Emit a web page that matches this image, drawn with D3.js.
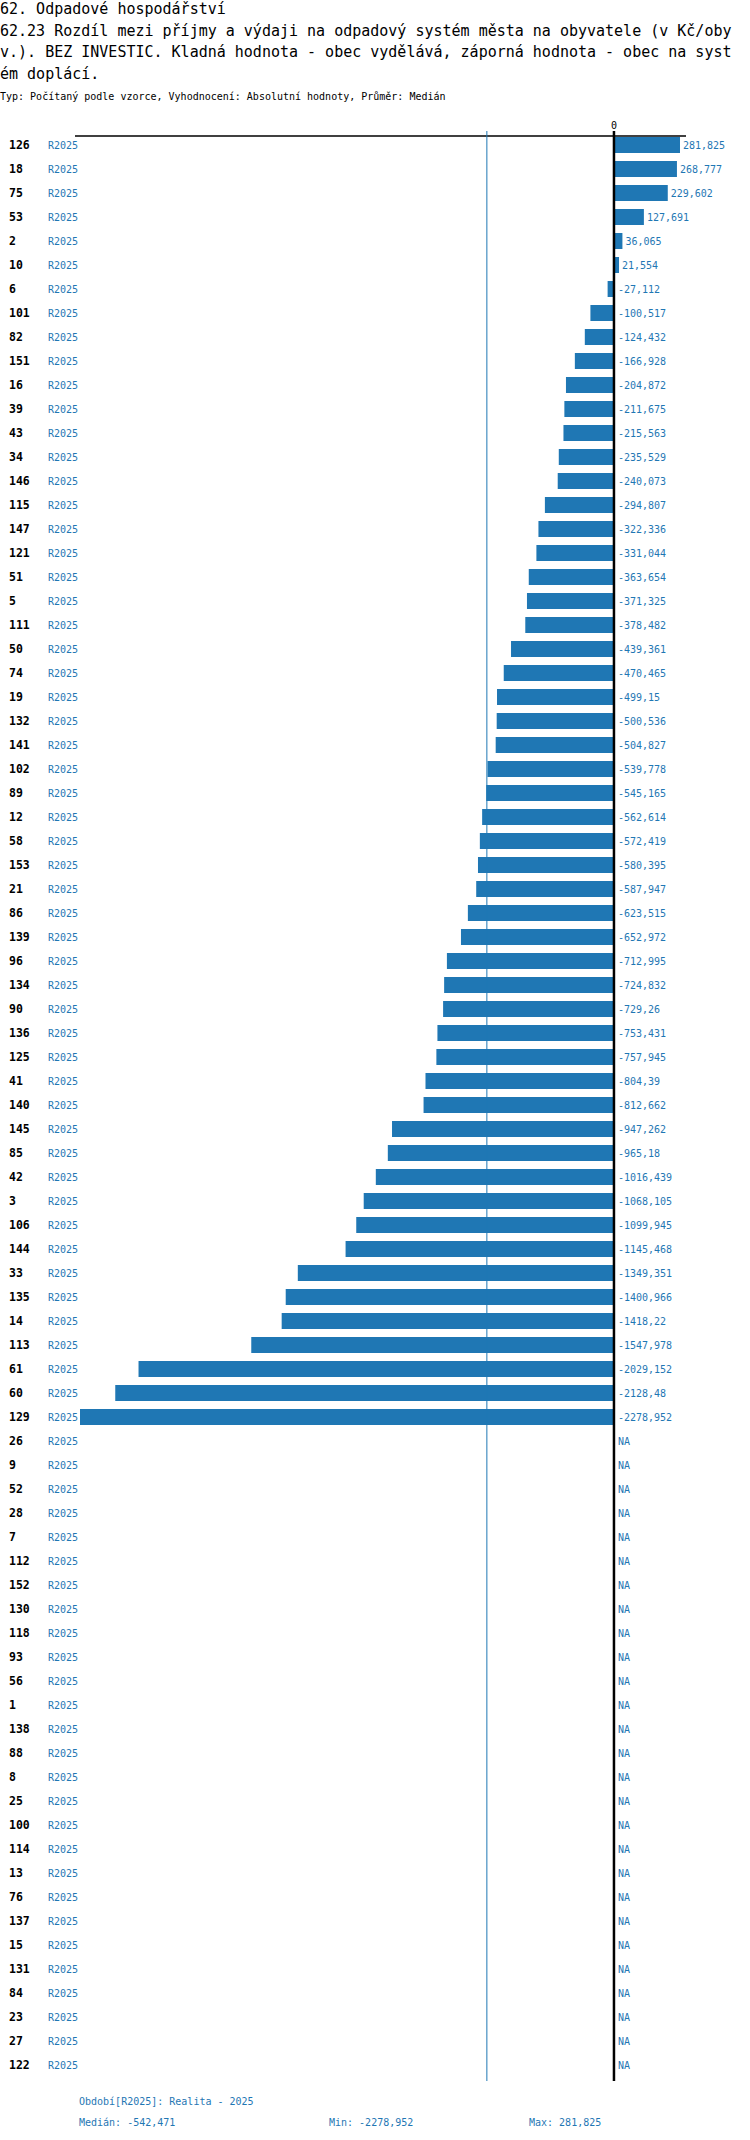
<!DOCTYPE html>
<html>
<head>
<meta charset="utf-8">
<script src="https://cdn.jsdelivr.net/npm/d3@7"></script>
<style>
  body { margin: 0; background: #fff; }
  text { font-family: "DejaVu Sans Mono", "Liberation Mono", monospace; }
</style>
</head>
<body>
<svg id="chart" width="750" height="2140"></svg>
<script>
// popisky radku (obce) v poradi jak jsou v grafu
const obce = ['126','18','75','53','2','10','6','101','82','151','16','39','43','34','146','115','147','121','51','5','111','50','74','19','132','141','102','89','12','58','153','21','86','139','96','134','90','136','125','41','140','145','85','42','3','106','144','33','135','14','113','61','60','129',
  '26','9','52','28','7','112','152','130','118','93','56','1','138','88','8','25','100','114','13','76','137','15','131','84','23','27','122']

// hodnoty R2025 (null = NA)
const hodnoty = [281.825,268.777,229.602,127.691,36.065,21.554,-27.112,-100.517,-124.432,-166.928,-204.872,-211.675,-215.563,-235.529,-240.073,-294.807,-322.336,-331.044,-363.654,-371.325,-378.482,-439.361,-470.465,-499.15,-500.536,-504.827,-539.778,-545.165,-562.614,-572.419,-580.395,-587.947,-623.515,-652.972,-712.995,-724.832,-729.26,-753.431,-757.945,-804.39,-812.662,-947.262,-965.18,-1016.439,-1068.105,-1099.945,-1145.468,-1349.351,-1400.966,-1418.22,-1547.978,-2029.152,-2128.48,-2278.952,
  null,null,null,null,null,null,null,null,null,null,null,null,null,null,null,null,null,null,null,null,null,null,null,null,null,null,null]

const obdobi = 'R2025'
const median = -542.471

const titulky = [
  '62. Odpadové hospodářství',
  '62.23 Rozdíl mezi příjmy a výdaji na odpadový systém města na obyvatele (v Kč/oby',
  'v.). BEZ INVESTIC. Kladná hodnota - obec vydělává, záporná hodnota - obec na syst',
  'ém doplácí.'
]
const podtitul = 'Typ: Počítaný podle vzorce, Vyhodnocení: Absolutní hodnoty, Průměr: Medián'

const BLUE = '#1f77b4'
const fmt = v => String(v).replace('.', ',')

const data = obce.map((o, i) => ({ obec: o, hodnota: hodnoty[i] }))
const platne = hodnoty.filter(v => v !== null)

const svg = d3.select('#chart')
svg.append('rect').attr('width', 750).attr('height', 2140).attr('fill', '#fff')

// nadpis
svg.selectAll('.titulek').data(titulky).enter()
  .append('text')
  .attr('x', 0)
  .attr('y', (d, i) => 14 + i * 21.7)
  .attr('font-size', 15)
  .attr('fill', '#000')
  .text(d => d)

svg.append('text').attr('x', 0).attr('y', 100)
  .attr('font-size', 10).attr('fill', '#000').text(podtitul)

// skaly
const x = d3.scaleLinear()
  .domain([d3.min(platne), d3.max(platne)])
  .range([80, 680])

const y = d3.scaleBand()
  .domain(obce)
  .range([133, 133 + obce.length * 24])
  .paddingInner(1 / 3)
  .paddingOuter(1 / 6)

const osaY = 136
const konecY = 2081

// horni osa
svg.append('line')
  .attr('x1', 75).attr('x2', 686)
  .attr('y1', osaY).attr('y2', osaY)
  .attr('stroke', '#000').attr('stroke-width', 1.5)

// radky
const rows = svg.append('g').attr('class', 'rows')
rows.selectAll('.obec').data(data).enter()
  .append('text')
  .attr('x', 9)
  .attr('y', d => y(d.obec) + y.bandwidth() / 2 + 4)
  .attr('font-size', 11.5).attr('font-weight', 'bold').attr('fill', '#000')
  .text(d => d.obec)

rows.selectAll('.obdobi').data(data).enter()
  .append('text')
  .attr('x', 48)
  .attr('y', d => y(d.obec) + y.bandwidth() / 2 + 4)
  .attr('font-size', 10).attr('fill', BLUE)
  .text(obdobi)

// sloupce
svg.append('g').selectAll('rect').data(data.filter(d => d.hodnota !== null)).enter()
  .append('rect')
  .attr('x', d => Math.min(x(0), x(d.hodnota)))
  .attr('y', d => y(d.obec))
  .attr('width', d => Math.abs(x(d.hodnota) - x(0)))
  .attr('height', y.bandwidth())
  .attr('fill', BLUE)

// hodnoty
svg.append('g').selectAll('text').data(data).enter()
  .append('text')
  .attr('x', d => d.hodnota !== null && d.hodnota > 0 ? x(d.hodnota) + 3 : x(0) + 4)
  .attr('y', d => y(d.obec) + y.bandwidth() / 2 + 4)
  .attr('font-size', 10).attr('fill', BLUE)
  .text(d => d.hodnota === null ? 'NA' : fmt(d.hodnota))

// median a nula
svg.append('line')
  .attr('x1', x(median)).attr('x2', x(median))
  .attr('y1', 131).attr('y2', konecY)
  .attr('stroke', BLUE).attr('stroke-width', 1)

svg.append('line')
  .attr('x1', x(0)).attr('x2', x(0))
  .attr('y1', 131).attr('y2', konecY)
  .attr('stroke', '#000').attr('stroke-width', 2.5)

svg.append('text')
  .attr('x', x(0)).attr('y', 129)
  .attr('text-anchor', 'middle')
  .attr('font-size', 10).attr('fill', '#000')
  .text('0')

// paticka
const pata = svg.append('g').attr('font-size', 10).attr('fill', BLUE)
pata.append('text').attr('x', 79).attr('y', 2105).text('Období[' + obdobi + ']: Realita - 2025')
pata.append('text').attr('x', 79).attr('y', 2126).text('Medián: ' + fmt(median))
pata.append('text').attr('x', 329).attr('y', 2126).text('Min: ' + fmt(d3.min(platne)))
pata.append('text').attr('x', 529).attr('y', 2126).text('Max: ' + fmt(d3.max(platne)))
</script>
</body>
</html>
